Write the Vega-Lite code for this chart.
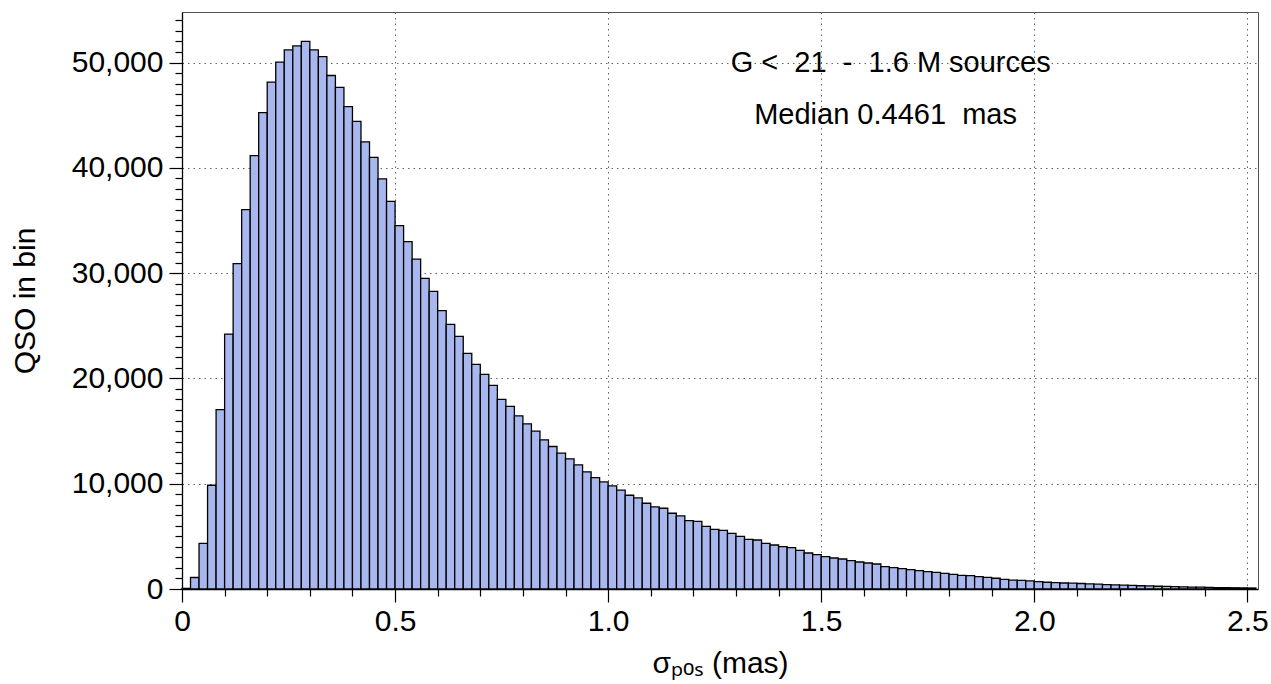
{
  "$schema": "https://vega.github.io/schema/vega-lite/v6.json",
  "width": 1076,
  "height": 577,
  "autosize": {"type": "none"},
  "padding": {"left": 182, "top": 12, "right": 13, "bottom": 95},
  "background": "white",
  "config": {
    "font": "Liberation Sans",
    "view": {"stroke": "#555555", "strokeWidth": 1},
    "axis": {
      "domainColor": "black",
      "domainWidth": 1.3,
      "tickColor": "black",
      "tickWidth": 1.2,
      "labelColor": "black",
      "labelFont": "Liberation Sans",
      "labelFontSize": 30,
      "titleFont": "Liberation Sans, Noto Sans, DejaVu Sans",
      "titleFontSize": 30,
      "titleFontWeight": "normal",
      "titleColor": "black",
      "gridColor": "#666666",
      "gridDash": [1.5, 4],
      "gridWidth": 1
    }
  },
  "datasets": {
    "bins": [
      {"lo": 0.00, "hi": 0.02, "n": 60},
      {"lo": 0.02, "hi": 0.04, "n": 1091},
      {"lo": 0.04, "hi": 0.06, "n": 4328},
      {"lo": 0.06, "hi": 0.08, "n": 9852},
      {"lo": 0.08, "hi": 0.10, "n": 17030},
      {"lo": 0.10, "hi": 0.12, "n": 24208},
      {"lo": 0.12, "hi": 0.14, "n": 30894},
      {"lo": 0.14, "hi": 0.16, "n": 36031},
      {"lo": 0.16, "hi": 0.18, "n": 41168},
      {"lo": 0.18, "hi": 0.20, "n": 45250},
      {"lo": 0.20, "hi": 0.22, "n": 48135},
      {"lo": 0.22, "hi": 0.24, "n": 50035},
      {"lo": 0.24, "hi": 0.26, "n": 51196},
      {"lo": 0.26, "hi": 0.28, "n": 51583},
      {"lo": 0.28, "hi": 0.30, "n": 52006},
      {"lo": 0.30, "hi": 0.32, "n": 51196},
      {"lo": 0.32, "hi": 0.34, "n": 50563},
      {"lo": 0.34, "hi": 0.36, "n": 48769},
      {"lo": 0.36, "hi": 0.38, "n": 47643},
      {"lo": 0.38, "hi": 0.40, "n": 45813},
      {"lo": 0.40, "hi": 0.42, "n": 44406},
      {"lo": 0.42, "hi": 0.44, "n": 42470},
      {"lo": 0.44, "hi": 0.46, "n": 40992},
      {"lo": 0.46, "hi": 0.48, "n": 38952},
      {"lo": 0.48, "hi": 0.50, "n": 36805},
      {"lo": 0.50, "hi": 0.52, "n": 34520},
      {"lo": 0.52, "hi": 0.54, "n": 32985},
      {"lo": 0.54, "hi": 0.56, "n": 31333},
      {"lo": 0.56, "hi": 0.58, "n": 29509},
      {"lo": 0.58, "hi": 0.60, "n": 28273},
      {"lo": 0.60, "hi": 0.62, "n": 26434},
      {"lo": 0.62, "hi": 0.64, "n": 25135},
      {"lo": 0.64, "hi": 0.66, "n": 23994},
      {"lo": 0.66, "hi": 0.68, "n": 22377},
      {"lo": 0.68, "hi": 0.70, "n": 21331},
      {"lo": 0.70, "hi": 0.72, "n": 20380},
      {"lo": 0.72, "hi": 0.74, "n": 19334},
      {"lo": 0.74, "hi": 0.76, "n": 18003},
      {"lo": 0.76, "hi": 0.78, "n": 17338},
      {"lo": 0.78, "hi": 0.80, "n": 16450},
      {"lo": 0.80, "hi": 0.82, "n": 15689},
      {"lo": 0.82, "hi": 0.84, "n": 14992},
      {"lo": 0.84, "hi": 0.86, "n": 14168},
      {"lo": 0.86, "hi": 0.88, "n": 13534},
      {"lo": 0.88, "hi": 0.90, "n": 12900},
      {"lo": 0.90, "hi": 0.92, "n": 12361},
      {"lo": 0.92, "hi": 0.94, "n": 11791},
      {"lo": 0.94, "hi": 0.96, "n": 11125},
      {"lo": 0.96, "hi": 0.98, "n": 10586},
      {"lo": 0.98, "hi": 1.00, "n": 10174},
      {"lo": 1.00, "hi": 1.02, "n": 9794},
      {"lo": 1.02, "hi": 1.04, "n": 9382},
      {"lo": 1.04, "hi": 1.06, "n": 8906},
      {"lo": 1.06, "hi": 1.08, "n": 8653},
      {"lo": 1.08, "hi": 1.10, "n": 8146},
      {"lo": 1.10, "hi": 1.12, "n": 7797},
      {"lo": 1.12, "hi": 1.14, "n": 7670},
      {"lo": 1.14, "hi": 1.16, "n": 7195},
      {"lo": 1.16, "hi": 1.18, "n": 6942},
      {"lo": 1.18, "hi": 1.20, "n": 6498},
      {"lo": 1.20, "hi": 1.22, "n": 6414},
      {"lo": 1.22, "hi": 1.24, "n": 5949},
      {"lo": 1.24, "hi": 1.26, "n": 5665},
      {"lo": 1.26, "hi": 1.28, "n": 5570},
      {"lo": 1.28, "hi": 1.30, "n": 5285},
      {"lo": 1.30, "hi": 1.32, "n": 5000},
      {"lo": 1.32, "hi": 1.34, "n": 4715},
      {"lo": 1.34, "hi": 1.36, "n": 4652},
      {"lo": 1.36, "hi": 1.38, "n": 4335},
      {"lo": 1.38, "hi": 1.40, "n": 4177},
      {"lo": 1.40, "hi": 1.42, "n": 4019},
      {"lo": 1.42, "hi": 1.44, "n": 3924},
      {"lo": 1.44, "hi": 1.46, "n": 3671},
      {"lo": 1.46, "hi": 1.48, "n": 3418},
      {"lo": 1.48, "hi": 1.50, "n": 3259},
      {"lo": 1.50, "hi": 1.52, "n": 3070},
      {"lo": 1.52, "hi": 1.54, "n": 2943},
      {"lo": 1.54, "hi": 1.56, "n": 2848},
      {"lo": 1.56, "hi": 1.58, "n": 2690},
      {"lo": 1.58, "hi": 1.60, "n": 2563},
      {"lo": 1.60, "hi": 1.62, "n": 2468},
      {"lo": 1.62, "hi": 1.64, "n": 2373},
      {"lo": 1.64, "hi": 1.66, "n": 2120},
      {"lo": 1.66, "hi": 1.68, "n": 2025},
      {"lo": 1.68, "hi": 1.70, "n": 1930},
      {"lo": 1.70, "hi": 1.72, "n": 1835},
      {"lo": 1.72, "hi": 1.74, "n": 1741},
      {"lo": 1.74, "hi": 1.76, "n": 1646},
      {"lo": 1.76, "hi": 1.78, "n": 1582},
      {"lo": 1.78, "hi": 1.80, "n": 1487},
      {"lo": 1.80, "hi": 1.82, "n": 1392},
      {"lo": 1.82, "hi": 1.84, "n": 1297},
      {"lo": 1.84, "hi": 1.86, "n": 1275},
      {"lo": 1.86, "hi": 1.88, "n": 1180},
      {"lo": 1.88, "hi": 1.90, "n": 1100},
      {"lo": 1.90, "hi": 1.92, "n": 1020},
      {"lo": 1.92, "hi": 1.94, "n": 905},
      {"lo": 1.94, "hi": 1.96, "n": 850},
      {"lo": 1.96, "hi": 1.98, "n": 810},
      {"lo": 1.98, "hi": 2.00, "n": 780},
      {"lo": 2.00, "hi": 2.02, "n": 700},
      {"lo": 2.02, "hi": 2.04, "n": 640},
      {"lo": 2.04, "hi": 2.06, "n": 600},
      {"lo": 2.06, "hi": 2.08, "n": 570},
      {"lo": 2.08, "hi": 2.10, "n": 550},
      {"lo": 2.10, "hi": 2.12, "n": 520},
      {"lo": 2.12, "hi": 2.14, "n": 480},
      {"lo": 2.14, "hi": 2.16, "n": 460},
      {"lo": 2.16, "hi": 2.18, "n": 420},
      {"lo": 2.18, "hi": 2.20, "n": 390},
      {"lo": 2.20, "hi": 2.22, "n": 360},
      {"lo": 2.22, "hi": 2.24, "n": 340},
      {"lo": 2.24, "hi": 2.26, "n": 310},
      {"lo": 2.26, "hi": 2.28, "n": 290},
      {"lo": 2.28, "hi": 2.30, "n": 260},
      {"lo": 2.30, "hi": 2.32, "n": 240},
      {"lo": 2.32, "hi": 2.34, "n": 220},
      {"lo": 2.34, "hi": 2.36, "n": 200},
      {"lo": 2.36, "hi": 2.38, "n": 185},
      {"lo": 2.38, "hi": 2.40, "n": 170},
      {"lo": 2.40, "hi": 2.42, "n": 155},
      {"lo": 2.42, "hi": 2.44, "n": 140},
      {"lo": 2.44, "hi": 2.46, "n": 125},
      {"lo": 2.46, "hi": 2.48, "n": 115},
      {"lo": 2.48, "hi": 2.50, "n": 105},
      {"lo": 2.50, "hi": 2.52, "n": 95}
    ],
    "notes": [
      {"lo": 1.663, "n": 50000, "label": "G <\u00a0 21\u00a0 -\u00a0 1.6 M sources"},
      {"lo": 1.651, "n": 45000, "label": "Median 0.4461\u00a0 mas"}
    ]
  },
  "encoding": {
    "x": {
      "field": "lo",
      "type": "quantitative",
      "scale": {"domain": [0, 2.525], "nice": false, "zero": false},
      "axis": {
        "title": "σₚₒₛ (mas)",
        "titlePadding": 12,
        "values": [0, 0.1, 0.2, 0.3, 0.4, 0.5, 0.6, 0.7, 0.8, 0.9, 1.0, 1.1, 1.2, 1.3, 1.4, 1.5, 1.6, 1.7, 1.8, 1.9, 2.0, 2.1, 2.2, 2.3, 2.4, 2.5],
        "labelExpr": "abs(datum.value*2 - round(datum.value*2)) < 1e-6 ? (datum.value === 0 ? '0' : format(datum.value, '.1f')) : ''",
        "labelOverlap": false,
        "labelFlush": false,
        "labelPadding": 4,
        "tickSize": {"condition": {"test": "abs(datum.value*2 - round(datum.value*2)) < 1e-6", "value": 13}, "value": 7},
        "grid": true,
        "gridOpacity": {"condition": {"test": "abs(datum.value*2 - round(datum.value*2)) < 1e-6 && datum.value > 0", "value": 1}, "value": 0}
      }
    },
    "y": {
      "field": "n",
      "type": "quantitative",
      "scale": {"domain": [0, 54800], "nice": false},
      "axis": {
        "title": "QSO in bin",
        "titlePadding": 31,
        "values": [0, 1000, 2000, 3000, 4000, 5000, 6000, 7000, 8000, 9000, 10000, 11000, 12000, 13000, 14000, 15000, 16000, 17000, 18000, 19000, 20000, 21000, 22000, 23000, 24000, 25000, 26000, 27000, 28000, 29000, 30000, 31000, 32000, 33000, 34000, 35000, 36000, 37000, 38000, 39000, 40000, 41000, 42000, 43000, 44000, 45000, 46000, 47000, 48000, 49000, 50000, 51000, 52000, 53000, 54000],
        "labelExpr": "datum.value % 10000 === 0 ? format(datum.value, ',') : ''",
        "labelOverlap": false,
        "labelPadding": 6,
        "tickSize": {"condition": {"test": "datum.value % 10000 === 0", "value": 13}, "value": 7},
        "grid": true,
        "gridOpacity": {"condition": {"test": "datum.value % 10000 === 0 && datum.value > 0", "value": 1}, "value": 0}
      }
    }
  },
  "layer": [
    {
      "data": {"name": "bins"},
      "mark": {"type": "rect", "fill": "#a8b8ee", "stroke": "black", "strokeWidth": 1.3, "opacity": 1},
      "encoding": {
        "x2": {"field": "hi"},
        "y2": {"datum": 0}
      }
    },
    {
      "data": {"name": "notes"},
      "mark": {"type": "text", "font": "Liberation Sans", "fontSize": 29, "align": "center", "baseline": "middle", "color": "black"},
      "encoding": {
        "text": {"field": "label"}
      }
    }
  ]
}
